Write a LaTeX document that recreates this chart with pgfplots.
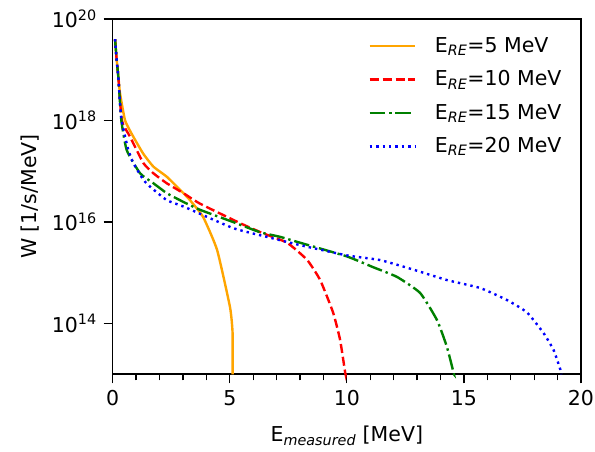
\documentclass[border=0pt]{standalone}
\usepackage{fontspec}
\setmainfont{DejaVu Sans}
\usepackage{pgfplots}
\pgfplotsset{compat=1.18}

\definecolor{mplorange}{HTML}{FFA500}
\definecolor{mplgreen}{HTML}{008000}

\begin{document}
\fontsize{20.5}{24.6}\selectfont
\begin{tikzpicture}
\begin{axis}[
  scale only axis,
  width=468.3pt, height=355.3pt,
  xmin=0, xmax=20,
  ymode=log, ymin=1e13, ymax=1e20,
  clip=false,
  axis line style={line width=1.6pt},
  tick style={line width=1.3pt, black},
  tick align=outside,
  xtick pos=bottom, ytick pos=left,
  major tick length=9pt, minor tick length=6pt,
  xtick={0,5,10,15,20},
  minor x tick num=4,
  ytick={1e14,1e16,1e18,1e20},
  yticklabels={10\textsuperscript{14},10\textsuperscript{16},10\textsuperscript{18},10\textsuperscript{20}},
  yminorticks=false,
  /pgf/number format/assume math mode=true,
  xlabel={E\textsubscript{\textit{measured}} [MeV]},
  ylabel={W [1/s/MeV]},
  xlabel style={at={(axis description cs:0.5,0)}, anchor=base, yshift=-67.7pt},
  ylabel style={at={(axis description cs:-0.1766,0.5)}, anchor=center},
  legend cell align=left,
  legend image code/.code={\draw[#1, line width=2.4pt] (0pt,0pt) -- (45pt,0pt);},
  legend style={draw=none, fill=none, inner sep=0pt,
    at={(rel axis cs:0.5458,0.955)}, anchor=north west,
    row sep=11.3pt,
    /tikz/every odd column/.append style={column sep=17pt}},
]
% E_RE = 5 MeV
\addplot[color=mplorange, smooth, tension=0.3, line width=2.4pt] coordinates {
  (0.10,4.0e19) (0.17,1.6e19) (0.24,7.5e18) (0.31,3.5e18) (0.53,1.0e18)
  (0.88,4.8e17) (1.31,2.2e17) (1.74,1.23e17) (2.31,7.8e16) (3.02,3.7e16)
  (3.30,2.7e16) (3.86,1.26e16) (4.46,2.8e15) (5.01,2.1e14) (5.12,6.5e13)
  (5.12,1e13)
};
\addlegendentry{E\textsubscript{\textit{RE}}=5 MeV}
% E_RE = 10 MeV
\addplot[color=red, dash pattern=on 9pt off 3.9pt, smooth, tension=0.3, line width=2.4pt] coordinates {
  (0.10,4.0e19) (0.17,1.55e19) (0.24,7.2e18) (0.39,1.0e18) (0.74,4.8e17)
  (1.31,1.45e17) (1.74,9.1e16) (2.31,5.8e16) (3.02,3.7e16) (3.73,2.3e16)
  (5.44,9.5e15) (6.42,6.0e15) (7.45,3.9e15) (8.30,1.8e15) (8.86,7.2e14)
  (9.41,1.66e14) (9.71,4.8e13) (9.93,1.07e13) (9.95,1e13)
};
\addlegendentry{E\textsubscript{\textit{RE}}=10 MeV}
% E_RE = 15 MeV
\addplot[color=mplgreen, dash pattern=on 15.5pt off 3.9pt on 2.4pt off 3.9pt, smooth, tension=0.3, line width=2.4pt] coordinates {
  (0.10,4.0e19) (0.17,1.55e19) (0.24,7.2e18) (0.37,1.0e18) (0.60,2.6e17)
  (1.17,9.1e16) (1.74,5.8e16) (2.31,3.7e16) (3.01,2.5e16) (3.73,1.74e16)
  (5.14,1.0e16) (6.29,6.3e15) (7.15,5.1e15) (8.01,3.9e15) (10.0,2.1e15)
  (11.12,1.29e15) (12.14,8.3e14) (13.13,4.0e14) (13.85,1.17e14)
  (14.27,3.5e13) (14.56,1.07e13) (14.57,1e13)
};
\addlegendentry{E\textsubscript{\textit{RE}}=15 MeV}
% E_RE = 20 MeV
\addplot[color=blue, dash pattern=on 2.4pt off 4pt, smooth, tension=0.3, line width=2.4pt] coordinates {
  (0.10,4.0e19) (0.17,1.55e19) (0.24,7.2e18) (0.31,2.2e18) (0.38,1.0e18)
  (0.53,4.8e17) (0.67,2.6e17) (0.88,1.45e17) (1.31,6.8e16) (1.59,5.0e16)
  (2.31,2.7e16) (3.10,1.95e16) (5.14,7.6e15) (6.58,5.1e15) (8.01,3.5e15)
  (10.0,2.2e15) (11.42,1.78e15) (12.85,1.15e15) (14.27,7.2e14)
  (15.70,5.0e14) (16.84,2.9e14) (17.69,1.66e14) (18.40,6.5e13)
  (18.83,3.0e13) (19.12,1.23e13) (19.16,1e13)
};
\addlegendentry{E\textsubscript{\textit{RE}}=20 MeV}
\end{axis}
% page margins around the axis box
\pgfresetboundingbox
\path ([shift={(-112.7pt,-77.7pt)}]current axis.south west)
  rectangle ([shift={(14pt,19pt)}]current axis.north east);
\end{tikzpicture}
\end{document}
